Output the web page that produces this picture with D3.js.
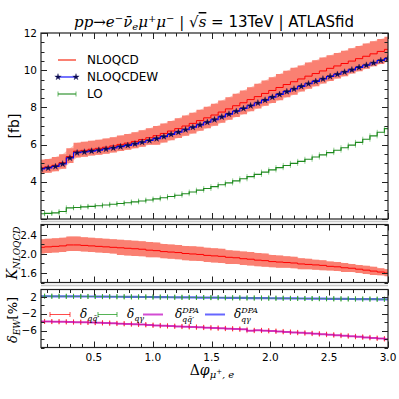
<!DOCTYPE html>
<html>
<head>
<meta charset="utf-8">
<script src="https://cdn.jsdelivr.net/npm/d3@7/dist/d3.min.js"></script>
<style>
  body { margin: 0; background: #fff; }
  svg { display: block; }
</style>
</head>
<body>
<div id="chart"></div>
<script>
// bin positions in delta phi
var dphi = [0.050, 0.111, 0.173, 0.234, 0.296, 0.357, 0.419, 0.480, 0.542, 0.603,
            0.665, 0.726, 0.788, 0.849, 0.910, 0.972, 1.033, 1.095, 1.156, 1.218,
            1.279, 1.341, 1.402, 1.464, 1.525, 1.587, 1.648, 1.710, 1.771, 1.832,
            1.894, 1.955, 2.017, 2.078, 2.140, 2.201, 2.263, 2.324, 2.386, 2.447,
            2.508, 2.570, 2.631, 2.693, 2.754, 2.816, 2.877, 2.939, 3.000];

var nloqcd = [4.75, 4.80, 4.89, 5.03, 5.36, 5.65, 5.69, 5.75, 5.80, 5.86, 5.93, 6.01, 6.08, 6.17, 6.27, 6.37,
              6.48, 6.60, 6.73, 6.86, 7.00, 7.14, 7.29, 7.44, 7.59, 7.75, 7.92, 8.09, 8.25, 8.42, 8.58, 8.75,
              8.91, 9.07, 9.23, 9.38, 9.53, 9.68, 9.82, 9.96, 10.10, 10.23, 10.36, 10.49, 10.62, 10.75, 10.88, 11.01, 11.12];
var nloqcdHi = [5.18, 5.23, 5.33, 5.48, 5.80, 6.10, 6.15, 6.21, 6.26, 6.33, 6.40, 6.49, 6.57, 6.66, 6.77, 6.88,
                7.00, 7.13, 7.27, 7.41, 7.56, 7.71, 7.87, 8.04, 8.20, 8.37, 8.55, 8.74, 8.91, 9.09, 9.27, 9.45,
                9.62, 9.80, 9.97, 10.13, 10.25, 10.41, 10.54, 10.68, 10.81, 10.93, 11.05, 11.18, 11.30, 11.43, 11.55, 11.68, 11.80];
var nloqcdLo = [4.44, 4.49, 4.57, 4.70, 5.01, 5.31, 5.35, 5.41, 5.45, 5.51, 5.57, 5.65, 5.72, 5.80, 5.89, 5.99,
                5.99, 6.11, 6.23, 6.35, 6.48, 6.60, 6.74, 6.88, 7.02, 7.17, 7.33, 7.48, 7.63, 7.79, 7.94, 8.09,
                8.24, 8.39, 8.54, 8.68, 8.86, 9.00, 9.14, 9.28, 9.42, 9.55, 9.68, 9.82, 9.95, 10.08, 10.21, 10.34, 10.45];
var nloqcdew = [4.69, 4.74, 4.82, 4.96, 5.28, 5.56, 5.60, 5.65, 5.70, 5.76, 5.82, 5.89, 5.96, 6.04, 6.13, 6.22,
                6.32, 6.43, 6.55, 6.67, 6.80, 6.93, 7.06, 7.20, 7.34, 7.49, 7.64, 7.79, 7.94, 8.09, 8.24, 8.39,
                8.55, 8.70, 8.85, 8.99, 9.13, 9.27, 9.40, 9.53, 9.66, 9.78, 9.90, 10.02, 10.15, 10.27, 10.39, 10.52, 10.62];
var lo = [2.28, 2.30, 2.33, 2.40, 2.60, 2.62, 2.65, 2.68, 2.71, 2.75, 2.79, 2.83, 2.87, 2.92, 2.97, 3.02,
          3.08, 3.14, 3.21, 3.28, 3.36, 3.45, 3.55, 3.64, 3.74, 3.84, 3.94, 4.05, 4.16, 4.28, 4.40, 4.52,
          4.64, 4.76, 4.88, 4.99, 5.10, 5.21, 5.33, 5.45, 5.57, 5.70, 5.83, 5.97, 6.12, 6.29, 6.47, 6.66, 6.86];

var kfac = [2.14, 2.15, 2.16, 2.17, 2.19, 2.19, 2.18, 2.17, 2.16, 2.15, 2.14, 2.13, 2.12, 2.11, 2.10, 2.08,
            2.07, 2.05, 2.04, 2.03, 2.01, 2.00, 1.99, 1.97, 1.96, 1.95, 1.93, 1.92, 1.90, 1.89, 1.87, 1.86,
            1.84, 1.83, 1.82, 1.81, 1.79, 1.78, 1.77, 1.76, 1.74, 1.73, 1.71, 1.70, 1.68, 1.66, 1.64, 1.62, 1.60];
var kfacHi = [2.31, 2.32, 2.33, 2.34, 2.37, 2.37, 2.35, 2.34, 2.33, 2.32, 2.31, 2.30, 2.29, 2.28, 2.27, 2.25,
              2.24, 2.21, 2.20, 2.19, 2.17, 2.16, 2.15, 2.13, 2.12, 2.11, 2.08, 2.07, 2.05, 2.04, 2.02, 2.01,
              1.98, 1.97, 1.95, 1.94, 1.91, 1.90, 1.88, 1.87, 1.84, 1.83, 1.81, 1.79, 1.77, 1.75, 1.73, 1.70, 1.68];
var kfacLo = [2.01, 2.02, 2.03, 2.04, 2.06, 2.06, 2.05, 2.04, 2.03, 2.02, 2.01, 1.98, 1.97, 1.96, 1.95, 1.93,
              1.93, 1.91, 1.90, 1.89, 1.87, 1.86, 1.85, 1.83, 1.82, 1.81, 1.79, 1.79, 1.77, 1.76, 1.74, 1.73,
              1.72, 1.71, 1.71, 1.70, 1.68, 1.68, 1.67, 1.66, 1.65, 1.64, 1.62, 1.62, 1.60, 1.58, 1.56, 1.55, 1.53];

// EW corrections in percent
var dQQ = [-3.80, -3.82, -3.85, -3.88, -3.92, -3.96, -4.00, -4.05, -4.10, -4.17, -4.24, -4.31, -4.38, -4.45, -4.53, -4.65,
           -4.75, -4.83, -4.90, -4.97, -5.04, -5.11, -5.19, -5.27, -5.35, -5.43, -5.51, -5.59, -5.67, -6.00, -5.90, -5.98,
           -6.07, -6.18, -6.29, -6.40, -6.50, -6.60, -6.70, -6.82, -6.95, -7.08, -7.20, -7.33, -7.46, -7.59, -7.72, -7.86, -8.00];
var dQG = [2.20, 2.20, 2.19, 2.18, 2.17, 2.16, 2.15, 2.14, 2.12, 2.11, 2.09, 2.08, 2.06, 2.05, 2.03, 2.02,
           2.00, 1.98, 1.97, 1.95, 1.93, 1.92, 1.90, 1.88, 1.87, 1.85, 1.83, 1.82, 1.80, 1.78, 1.77, 1.75,
           1.73, 1.72, 1.70, 1.68, 1.67, 1.65, 1.63, 1.62, 1.60, 1.58, 1.57, 1.55, 1.53, 1.52, 1.50, 1.48, 1.47];
var dQQdpa = [-3.81, -3.83, -3.86, -3.89, -3.93, -3.97, -4.01, -4.06, -4.11, -4.18, -4.25, -4.32, -4.39, -4.46, -4.54, -4.66,
              -4.76, -4.84, -4.91, -4.98, -5.05, -5.12, -5.20, -5.28, -5.36, -5.44, -5.52, -5.60, -5.68, -6.01, -5.91, -5.99,
              -6.08, -6.19, -6.30, -6.41, -6.51, -6.61, -6.71, -6.83, -6.96, -7.09, -7.21, -7.34, -7.47, -7.60, -7.73, -7.87, -8.01];
var dQGdpa = [2.19, 2.19, 2.18, 2.17, 2.16, 2.15, 2.14, 2.13, 2.11, 2.10, 2.08, 2.07, 2.05, 2.04, 2.02, 2.01,
              1.99, 1.97, 1.96, 1.94, 1.92, 1.91, 1.89, 1.87, 1.86, 1.84, 1.82, 1.81, 1.79, 1.77, 1.76, 1.74,
              1.72, 1.71, 1.69, 1.67, 1.66, 1.64, 1.62, 1.61, 1.59, 1.57, 1.56, 1.54, 1.52, 1.51, 1.49, 1.47, 1.46];

var xTickLabels = ["0.5", "1.0", "1.5", "2.0", "2.5", "3.0"];

var W = 399, H = 399;
var L = 41, R = 388;
var binW = dphi[1] - dphi[0];

var svg = d3.select("#chart").append("svg")
    .attr("width", W).attr("height", H)
    .style("font-family", "DejaVu Sans");

var x = d3.scaleLinear().domain([0.05, 3.0]).range([L, R]);

var yTop = d3.scaleLinear().domain([2, 12]).range([219, 33]);
var yMid = d3.scaleLinear().domain([1.4, 2.62]).range([282.5, 224.5]);
var yBot = d3.scaleLinear().domain([-10, 3.8]).range([347.5, 289.5]);

function clip(id, y) {
  svg.append("clipPath").attr("id", id).append("rect")
    .attr("x", L).attr("y", y.range()[1])
    .attr("width", R - L).attr("height", y.range()[0] - y.range()[1]);
  return svg.append("g").attr("clip-path", "url(#" + id + ")");
}

function stepLine(y, vals) {
  return d3.line().curve(d3.curveStep)
    .x(function(d, i) { return x(dphi[i]); })
    .y(function(d) { return y(d); })(vals);
}

function band(g, y, hi, loV, fill) {
  var idx = d3.range(dphi.length);
  g.append("path")
    .attr("d", d3.area().curve(d3.curveLinear)
      .x(function(i) { return x(dphi[i]); })
      .y0(function(i) { return y(loV[i]); })
      .y1(function(i) { return y(hi[i]); })(idx))
    .attr("fill", "#fcc4bb");
  g.append("path")
    .attr("d", d3.area().curve(d3.curveStep)
      .x(function(i) { return x(dphi[i]); })
      .y0(function(i) { return y(loV[i]); })
      .y1(function(i) { return y(hi[i]); })(idx))
    .attr("fill", fill);
}

function caps(g, y, vals, color, op) {
  g.selectAll(null).data(vals).enter().append("path")
    .attr("d", function(d, i) {
      var yy = y(d), a = x(dphi[i] - binW / 2), b = x(dphi[i] + binW / 2);
      return "M" + a + "," + (yy - 2.5) + "V" + (yy + 2.5) + "M" + b + "," + (yy - 2.5) + "V" + (yy + 2.5);
    })
    .attr("stroke", color).attr("stroke-opacity", op).attr("stroke-width", 1).attr("fill", "none");
}

// ---------- top panel
var gTop = clip("cTop", yTop);
band(gTop, yTop, nloqcdHi, nloqcdLo, "#fa8072");
gTop.append("path").attr("d", stepLine(yTop, nloqcd))
  .attr("fill", "none").attr("stroke", "#ff0000").attr("stroke-width", 1);
caps(gTop, yTop, lo, "#2ca02c", 0.5);
gTop.append("path").attr("d", stepLine(yTop, lo))
  .attr("fill", "none").attr("stroke", "#1f8a1f").attr("stroke-width", 1.1);
gTop.append("path").attr("d", stepLine(yTop, nloqcdew))
  .attr("fill", "none").attr("stroke", "#0000ff").attr("stroke-width", 1.1);
var star = d3.symbol().type(d3.symbolStar).size(13);
gTop.selectAll(null).data(nloqcdew).enter().append("path")
  .attr("d", star)
  .attr("transform", function(d, i) { return "translate(" + x(dphi[i]) + "," + yTop(d) + ")"; })
  .attr("fill", "#0a0a50").attr("stroke", "#0a0a50").attr("stroke-width", 0.3);

// ---------- ratio panel
var gMid = clip("cMid", yMid);
band(gMid, yMid, kfacHi, kfacLo, "#fa8072");
gMid.append("path").attr("d", stepLine(yMid, kfac))
  .attr("fill", "none").attr("stroke", "#ff0000").attr("stroke-width", 1);

// ---------- EW panel
var gBot = clip("cBot", yBot);
gBot.append("path").attr("d", stepLine(yBot, dQGdpa))
  .attr("fill", "none").attr("stroke", "#0000ff").attr("stroke-opacity", 0.6).attr("stroke-width", 2.2);
caps(gBot, yBot, dQG, "#2ca02c", 0.8);
gBot.append("path").attr("d", stepLine(yBot, dQG))
  .attr("fill", "none").attr("stroke", "#2ca02c").attr("stroke-opacity", 0.6).attr("stroke-width", 1);
caps(gBot, yBot, dQQ, "#ff0000", 0.6);
gBot.append("path").attr("d", stepLine(yBot, dQQ))
  .attr("fill", "none").attr("stroke", "#ff0000").attr("stroke-opacity", 0.6).attr("stroke-width", 1);
gBot.append("path").attr("d", stepLine(yBot, dQQdpa))
  .attr("fill", "none").attr("stroke", "#bf00bf").attr("stroke-opacity", 0.7).attr("stroke-width", 2);

// ---------- frames and ticks
function frame(y, yMinor, yMajor, labels, fmt) {
  var t = y.range()[1], b = y.range()[0];
  var g = svg.append("g").attr("stroke", "#222").attr("stroke-width", 1);
  d3.range(1, 31).forEach(function(k) {
    var v = k / 10, xx = Math.round(x(v)) + 0.5;
    var len = (k % 5 === 0) ? 6 : 3.5;
    g.append("line").attr("x1", xx).attr("x2", xx).attr("y1", b).attr("y2", b - len);
    g.append("line").attr("x1", xx).attr("x2", xx).attr("y1", t).attr("y2", t + len);
  });
  yMinor.forEach(function(v) {
    var yy = Math.round(y(v)) + 0.5;
    var len = yMajor.indexOf(v) >= 0 ? 6 : 3.5;
    g.append("line").attr("x1", L).attr("x2", L + len).attr("y1", yy).attr("y2", yy);
    g.append("line").attr("x1", R).attr("x2", R - len).attr("y1", yy).attr("y2", yy);
  });
  g.append("rect").attr("x", L).attr("y", t).attr("width", R - L).attr("height", b - t)
    .attr("fill", "none").attr("stroke-width", 1.2);
  svg.append("g").selectAll(null).data(labels).enter().append("text")
    .attr("x", L - 4).attr("y", function(d) { return y(d) + 3.6; })
    .attr("text-anchor", "end").attr("font-size", "10.5px").attr("fill", "#000")
    .text(fmt);
}

frame(yTop, d3.range(2, 12.01, 0.5), [2, 4, 6, 8, 10, 12], [4, 6, 8, 10, 12], function(d) { return d; });
frame(yMid, [1.4, 1.6, 1.8, 2.0, 2.2, 2.4, 2.6], [1.6, 2.0, 2.4], [1.6, 2.0, 2.4], function(d) { return d.toFixed(1); });
frame(yBot, [-10, -8, -6, -4, -2, 0, 2], [-6, -2, 2], [-6, -2, 2], function(d) { return d < 0 ? "\u2212" + (-d) : d; });

// light gray separators under the upper panels
[221.5, 285.5].forEach(function(yy) {
  svg.append("line").attr("x1", L).attr("x2", R).attr("y1", yy).attr("y2", yy)
    .attr("stroke", "#c8c8c8").attr("stroke-width", 1.5);
});

// x tick labels
svg.selectAll(null).data(xTickLabels).enter().append("text")
  .attr("x", function(d) { return x(+d); }).attr("y", 360.5)
  .attr("text-anchor", "middle").attr("font-size", "10.5px")
  .text(function(d) { return d; });

// ---------- texts
var serif = "DejaVu Serif";
var title = svg.append("text").attr("x", 214).attr("y", 27).attr("text-anchor", "middle")
  .attr("font-size", "15px");
function ts(sel, txt, opt) {
  var s = sel.append("tspan").text(txt);
  opt = opt || {};
  if (opt.it) s.attr("font-style", "italic");
  if (opt.serif) s.attr("font-family", serif);
  if (opt.size) s.attr("font-size", opt.size);
  if (opt.dy) s.attr("dy", opt.dy);
  return s;
}
ts(title, "pp", {it: 1, serif: 1});
ts(title, "\u2192", {serif: 1});
ts(title, "e", {it: 1, serif: 1});
ts(title, "\u2212", {serif: 1, size: "10px", dy: -5});
ts(title, "\u03BD\u0304", {it: 1, serif: 1, dy: 5});
ts(title, "e", {it: 1, serif: 1, size: "10px", dy: 3});
ts(title, "\u03BC", {it: 1, serif: 1, dy: -3});
ts(title, "+", {serif: 1, size: "10px", dy: -5});
ts(title, "\u03BC", {it: 1, serif: 1, dy: 5});
ts(title, "\u2212", {serif: 1, size: "10px", dy: -5});
ts(title, " | \u221A", {serif: 1, dy: 5});
ts(title, "s", {it: 1, serif: 1}).style("text-decoration", "overline");
ts(title, " = ", {serif: 1});
ts(title, "13TeV | ATLASfid", {});

// legend top
var legY = [60, 77, 94];
var legNames = ["NLOQCD", "NLOQCDEW", "LO"];
var leg = svg.append("g");
leg.append("line").attr("x1", 58).attr("x2", 76).attr("y1", legY[0]).attr("y2", legY[0])
  .attr("stroke", "#fa8072").attr("stroke-width", 2);
leg.append("line").attr("x1", 58).attr("x2", 76).attr("y1", legY[1]).attr("y2", legY[1])
  .attr("stroke", "#0000ff").attr("stroke-width", 1.1);
[58, 76].forEach(function(xx) {
  leg.append("path").attr("d", star).attr("transform", "translate(" + xx + "," + legY[1] + ")")
    .attr("fill", "#0a0a50").attr("stroke", "#0a0a50").attr("stroke-width", 0.3);
  leg.append("line").attr("x1", xx).attr("x2", xx).attr("y1", legY[2] - 2.5).attr("y2", legY[2] + 2.5)
    .attr("stroke", "#2ca02c").attr("stroke-opacity", 0.7);
});
leg.append("line").attr("x1", 58).attr("x2", 76).attr("y1", legY[2]).attr("y2", legY[2])
  .attr("stroke", "#1f8a1f").attr("stroke-width", 1.1);
leg.selectAll(null).data(legNames).enter().append("text")
  .attr("x", 87).attr("y", function(d, i) { return legY[i] + 4.3; })
  .attr("font-size", "12px").text(function(d) { return d; });

// legend bottom
var lbY = 314.5;
var lb = svg.append("g");
function capLine(x1, x2, color, op) {
  lb.append("path").attr("d", "M" + x1 + "," + lbY + "H" + x2 +
      "M" + x1 + "," + (lbY - 2.5) + "V" + (lbY + 2.5) + "M" + x2 + "," + (lbY - 2.5) + "V" + (lbY + 2.5))
    .attr("stroke", color).attr("stroke-opacity", op).attr("fill", "none");
}
capLine(50, 70, "#ff0000", 0.7);
capLine(98, 117, "#2ca02c", 0.8);
lb.append("line").attr("x1", 143).attr("x2", 163).attr("y1", lbY).attr("y2", lbY)
  .attr("stroke", "#bf00bf").attr("stroke-opacity", 0.7).attr("stroke-width", 2);
lb.append("line").attr("x1", 205).attr("x2", 225).attr("y1", lbY).attr("y2", lbY)
  .attr("stroke", "#0000ff").attr("stroke-opacity", 0.6).attr("stroke-width", 2);

function deltaLabel(x0, sub, sup) {
  var t = lb.append("text").attr("x", x0).attr("y", lbY + 3).attr("font-family", serif)
    .attr("font-size", "12px").attr("font-style", "italic");
  t.append("tspan").text("\u03B4");
  if (sup) {
    t.append("tspan").attr("font-size", "8px").attr("dy", -5).text(sup);
    t.append("tspan").attr("font-size", "8px").attr("x", x0 + 7).attr("dy", 9).text(sub);
  } else {
    t.append("tspan").attr("font-size", "8px").attr("dy", 3).text(sub);
  }
}
deltaLabel(80, "qq\u0304\u2032");
deltaLabel(127, "q\u03B3");
deltaLabel(175, "qq\u0304\u2032", "DPA");
deltaLabel(234, "q\u03B3", "DPA");

// axis labels
svg.append("text").attr("transform", "translate(19,126) rotate(-90)")
  .attr("text-anchor", "middle").attr("font-size", "14px").text("[fb]");

var kl = svg.append("text").attr("transform", "translate(17,253) rotate(-90)")
  .attr("text-anchor", "middle").attr("font-family", serif).attr("font-style", "italic")
  .attr("font-size", "14px");
kl.append("tspan").text("K");
kl.append("tspan").attr("font-size", "9px").attr("dy", 3).text("NLOQCD");

var dl = svg.append("text").attr("transform", "translate(17,320) rotate(-90)")
  .attr("text-anchor", "middle").attr("font-size", "13px");
dl.append("tspan").attr("font-family", serif).attr("font-style", "italic").text("\u03B4");
dl.append("tspan").attr("font-family", serif).attr("font-style", "italic").attr("font-size", "9px").attr("dy", 3).text("EW");
dl.append("tspan").attr("dy", -3).text("[%]");

var xl = svg.append("text").attr("x", 212).attr("y", 375).attr("text-anchor", "middle")
  .attr("font-family", serif).attr("font-size", "14px");
xl.append("tspan").text("\u0394");
xl.append("tspan").attr("font-style", "italic").text("\u03C6");
xl.append("tspan").attr("font-style", "italic").attr("font-size", "10px").attr("dy", 3).text("\u03BC");
xl.append("tspan").attr("font-size", "7px").attr("dy", -4).text("+");
xl.append("tspan").attr("font-style", "italic").attr("font-size", "10px").attr("dy", 4).text(", e");
</script>
</body>
</html>
